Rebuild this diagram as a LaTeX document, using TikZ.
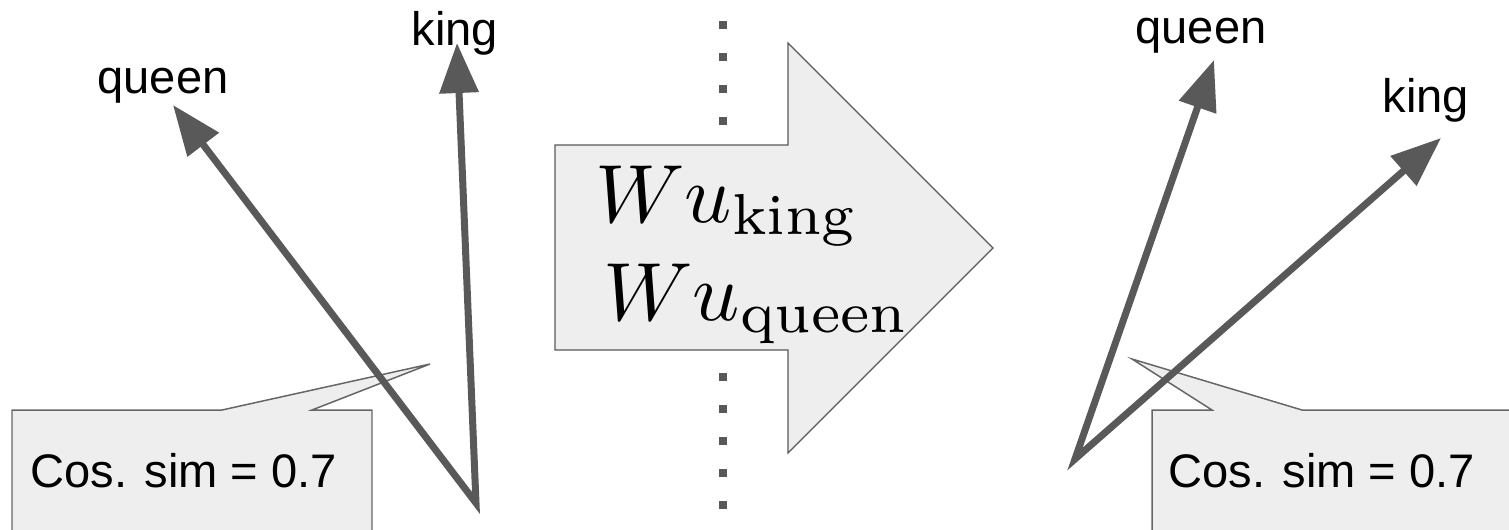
\RequirePackage{fix-cm}
\documentclass[tikz,border=0pt]{standalone}
\usepackage{fontspec}
\newfontfamily\labelfont{Liberation Sans}
\usetikzlibrary{arrows.meta}

\definecolor{vecgray}{HTML}{595959}
\definecolor{boxgray}{HTML}{EEEEEE}
\definecolor{edgegray}{HTML}{666666}

\newcommand{\bigmath}[1]{\scalebox{4.7}{\fontsize{10}{12}\selectfont$#1$}}

\begin{document}
\begin{tikzpicture}[
  x=0.02cm, y=-0.02cm,
  word/.style={font=\labelfont\fontsize{26.8}{32}\selectfont, inner sep=0pt, anchor=base},
  simtext/.style={font=\labelfont\fontsize{26.8}{32}\selectfont, inner sep=0pt, anchor=base west},
  mapping/.style={inner sep=0pt, anchor=base west},
  vec/.style={{Triangle[length=1cm, width=0.76cm]}-{Triangle[length=1cm, width=0.76cm]},
              line width=0.14cm, draw=vecgray},
  callout/.style={fill=boxgray, draw=edgegray, line width=0.85pt},
  bigarrow/.style={fill=boxgray, draw=vecgray, line width=0.75pt},
  dots/.style={draw=vecgray, line width=0.16cm, dash pattern=on 0.16cm off 0.48cm}
]
  \useasboundingbox (0,0) rectangle (1509,529);
  \clip (0,0) rectangle (1509,529);

  % separator and mapping
  \coordinate (septop) at (723,21);
  \coordinate (sepbot) at (723,513);
  \draw[dots] (septop) -- (sepbot);
  \draw[bigarrow] (555,145) -- (788,145) -- (788,43) -- (993,248)
                  -- (788,453) -- (788,350) -- (555,350) -- cycle;
  \node[mapping] (wking) at (595,222) {\bigmath{W u_{\mathrm{king}}}};
  \node[mapping] (wqueen) at (603,320) {\bigmath{W u_{\mathrm{queen}}}};

  % left: before
  \coordinate (originL) at (476,503);
  \coordinate (kingtipL) at (457,43);
  \coordinate (queentipL) at (173,105);
  \coordinate (pointerL) at (430,364);
  \draw[callout] (12,410) -- (222,410) -- (pointerL) -- (312,410) -- (372,410)
                 -- (372,545) -- (12,545) -- cycle;
  \draw[vec] (kingtipL) -- (originL) -- (queentipL);
  \node[word] (kingL) at (455,45) {king};
  \node[word] (queenL) at (163,93) {queen};
  \node[simtext] (simL) at (30,487) {Cos. sim = 0.7};

  % right: after
  \coordinate (originR) at (1075,459);
  \coordinate (kingtipR) at (1441,138);
  \coordinate (queentipR) at (1214,60);
  \coordinate (pointerR) at (1132,359);
  \draw[callout] (1152,410) -- (1212,410) -- (pointerR) -- (1302,410) -- (1520,410)
                 -- (1520,545) -- (1152,545) -- cycle;
  \draw[vec] (kingtipR) -- (originR) -- (queentipR);
  \node[word] (queenR) at (1201,43) {queen};
  \node[word] (kingR) at (1426,112) {king};
  \node[simtext] (simR) at (1168,487) {Cos. sim = 0.7};
\end{tikzpicture}
\end{document}
